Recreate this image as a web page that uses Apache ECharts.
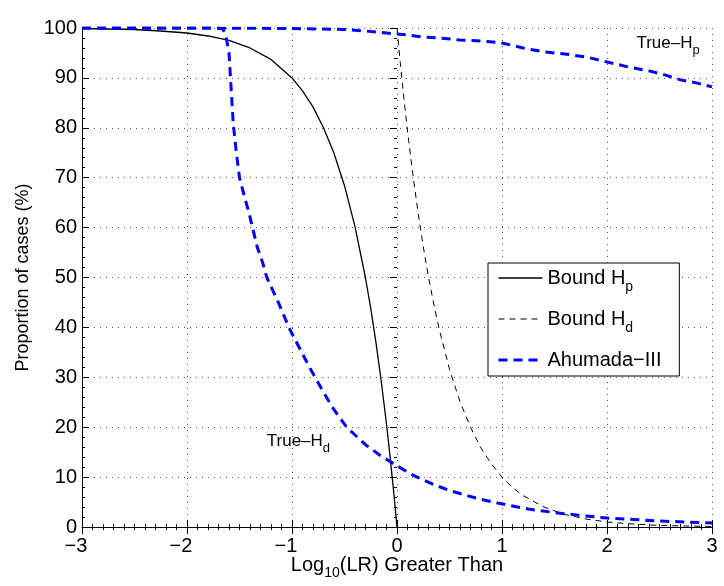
<!DOCTYPE html>
<html><head><meta charset="utf-8">
<script src="https://cdn.jsdelivr.net/npm/echarts@6/dist/echarts.min.js"></script>
<style>html,body{margin:0;padding:0;background:#fff}#c{width:724px;height:586px}</style>
</head><body><div id="c"></div>
<script>
// ---- data ----
const xTickValues = [-3, -2, -1, 0, 1, 2, 3];
const yTickValues = [0, 10, 20, 30, 40, 50, 60, 70, 80, 90, 100];

const boundHpX = [-3, -2.75, -2.5, -2.25, -2, -1.8, -1.6, -1.4, -1.2, -1.0, -0.9, -0.8, -0.7, -0.6, -0.5, -0.4, -0.3, -0.25, -0.2, -0.15, -0.1, -0.07, -0.04, -0.02, 0];
const boundHpY = [99.9, 99.8, 99.7, 99.4, 99.0, 98.4, 97.5, 96.0, 93.7, 90.0, 87.4, 84.2, 80.0, 74.9, 68.4, 60.2, 49.9, 43.8, 36.9, 29.2, 20.6, 14.9, 8.8, 4.5, 0];

const boundHdX = [0, 0.01, 0.03, 0.05, 0.075, 0.1, 0.15, 0.2, 0.25, 0.3, 0.35, 0.4, 0.5, 0.6, 0.7, 0.8, 0.9, 1.0, 1.1, 1.2, 1.4, 1.6, 1.8, 2.0, 2.25, 2.5, 2.75, 3];
const boundHdY = [100, 97.7, 93.3, 89.1, 84.1, 79.4, 70.8, 63.1, 56.2, 50.1, 44.7, 39.8, 31.6, 25.1, 20.0, 15.8, 12.6, 10.0, 7.9, 6.3, 4.0, 2.5, 1.6, 1.0, 0.6, 0.3, 0.2, 0.1];

const ahumadaHdX = [-3, -2, -1.7, -1.66, -1.63, -1.60, -1.58, -1.56, -1.53, -1.50, -1.45, -1.41, -1.37, -1.33, -1.28, -1.24, -1.13, -1.03, -0.92, -0.82, -0.70, -0.6, -0.48, -0.3, -0.15, -0.04, 0.1, 0.19, 0.35, 0.5, 0.75, 0.96, 1.25, 1.5, 1.75, 2.0, 2.25, 2.5, 2.75, 3];
const ahumadaHdY = [100, 100, 100, 99.8, 98.5, 95, 88, 81, 75, 70, 66, 63, 59.5, 56, 53, 50, 45, 40, 35.5, 31.5, 27, 23.5, 20, 16.5, 14.2, 12.8, 11, 10, 8.5, 7.3, 5.8, 4.8, 3.6, 2.9, 2.3, 1.8, 1.5, 1.2, 1.0, 0.8];

const ahumadaHpX = [-3, -2, -1, -0.5, -0.3, -0.1, 0.1, 0.25, 0.4, 0.6, 0.8, 1.0, 1.2, 1.4, 1.6, 1.8, 2.0, 2.2, 2.4, 2.55, 2.7, 2.85, 3];
const ahumadaHpY = [100, 100, 99.9, 99.7, 99.4, 99.0, 98.6, 98.2, 98.0, 97.6, 97.4, 97.0, 96.0, 95.2, 94.8, 94.2, 93.2, 92.2, 91.4, 90.6, 89.6, 89.0, 88.2];

const seriesNames = ['Bound Hp', 'Bound Hd', 'Ahumada-III'];
const annotations = [
  { text: 'True–H', sub: 'p', x: 2.28, y: 96.9 },
  { text: 'True–H', sub: 'd', x: -1.24, y: 17.1 }
];

// ---- chart ----
const FONT = '"Liberation Sans", Arial, Helvetica, sans-serif';
const pairs = (xs, ys) => xs.map((x, i) => [x, ys[i]]);

const chart = echarts.init(document.getElementById('c'), null, { renderer: 'canvas' });

const tickStyle = { color: '#000', width: 1 };
const gridLine = { show: true, lineStyle: { color: '#555', type: [1, 5], width: 1 } };
const hiddenSymbol = { opacity: 0, color: 'rgba(0,0,0,0)', borderWidth: 0 };

const option = {
  animation: false,
  backgroundColor: '#fff',
  textStyle: { fontFamily: FONT },
  grid: { left: 82, right: 12, top: 28, bottom: 59, containLabel: false, outerBoundsMode: 'none' },
  xAxis: [{
    type: 'value', min: xTickValues[0], max: xTickValues[xTickValues.length - 1], interval: 1, position: 'bottom',
    name: 'Log{s|10}(LR) Greater Than', nameLocation: 'middle', nameGap: 25, nameMoveOverlap: false,
    nameTextStyle: { fontFamily: FONT, fontSize: 20, color: '#000', lineHeight: 20, padding: [3, 0, 0, 0],
      rich: { s: { fontFamily: FONT, fontSize: 14, lineHeight: 20, padding: [8, 0, -8, 0], color: '#000' } } },
    axisLine: { show: true, onZero: false, lineStyle: tickStyle },
    axisTick: { show: true, inside: true, length: 7, lineStyle: tickStyle },
    minorTick: { show: true, splitNumber: 10, length: 3, lineStyle: tickStyle },
    axisLabel: { margin: 9, fontSize: 20, color: '#000', fontFamily: FONT,
      formatter: v => v < 0 ? '−' + Math.abs(v) + '{p| }' : String(v),
      rich: { p: { width: 12, fontSize: 20 } } },
    splitLine: gridLine
  }, {
    type: 'value', min: -3, max: 3, interval: 1, position: 'top',
    axisLine: { show: false },
    axisTick: { show: true, inside: true, length: 7, lineStyle: tickStyle },
    minorTick: { show: true, splitNumber: 10, length: 3, lineStyle: tickStyle },
    axisLabel: { show: false }, splitLine: { show: false }
  }],
  yAxis: [{
    type: 'value', min: yTickValues[0], max: yTickValues[yTickValues.length - 1], interval: 10, position: 'left',
    name: 'Proportion of cases (%)', nameLocation: 'middle', nameGap: 50, nameMoveOverlap: false,
    nameTextStyle: { fontFamily: FONT, fontSize: 18, color: '#000' },
    axisLine: { show: true, onZero: false, lineStyle: tickStyle },
    axisTick: { show: true, inside: true, length: 7, lineStyle: tickStyle },
    minorTick: { show: true, splitNumber: 5, length: 3, lineStyle: tickStyle },
    axisLabel: { margin: 5, fontSize: 20, color: '#000', fontFamily: FONT },
    splitLine: gridLine
  }, {
    type: 'value', min: 0, max: 100, interval: 10, position: 'right',
    axisLine: { show: false },
    axisTick: { show: true, inside: true, length: 7, lineStyle: tickStyle },
    minorTick: { show: true, splitNumber: 5, length: 3, lineStyle: tickStyle },
    axisLabel: { show: false }, splitLine: { show: false }
  }],
  legend: {
    orient: 'vertical', left: 488, top: 263, padding: [5, 14, 0, 9], itemGap: 15,
    itemWidth: 44, itemHeight: 14, selectedMode: false,
    borderColor: '#000', borderWidth: 1, borderRadius: 0, backgroundColor: '#fff',
    textStyle: { fontFamily: FONT, fontSize: 20, color: '#000', lineHeight: 20,
      rich: { s: { fontFamily: FONT, fontSize: 14, lineHeight: 20, padding: [9, 0, -9, 0], color: '#000' } } },
    formatter: n => n === 'Bound Hp' ? 'Bound H{s|p}' : n === 'Bound Hd' ? 'Bound H{s|d}' : 'Ahumada−III{s| }',
    data: [
      { name: seriesNames[0], itemStyle: hiddenSymbol, lineStyle: { width: 1.3 } },
      { name: seriesNames[1], itemStyle: hiddenSymbol, lineStyle: { width: 1 } },
      { name: seriesNames[2], itemStyle: hiddenSymbol, lineStyle: { width: 3 } }
    ]
  },
  series: [
    { name: seriesNames[0], type: 'line', data: pairs(boundHpX, boundHpY), symbol: 'none', showSymbol: false,
      lineStyle: { color: '#000', width: 1.3 }, itemStyle: { color: '#000' }, z: 2 },
    { name: seriesNames[1], type: 'line', data: pairs(boundHdX, boundHdY), symbol: 'none', showSymbol: false,
      lineStyle: { color: '#000', width: 1, type: [6, 5] }, itemStyle: { color: '#000' }, z: 2 },
    { name: seriesNames[2], type: 'line', data: pairs(ahumadaHdX, ahumadaHdY), symbol: 'none', showSymbol: false,
      lineStyle: { color: '#0000ff', width: 3, type: [9, 6] }, itemStyle: { color: '#0000ff' }, z: 3 },
    { name: seriesNames[2], type: 'line', data: pairs(ahumadaHpX, ahumadaHpY), symbol: 'none', showSymbol: false,
      lineStyle: { color: '#0000ff', width: 3, type: [9, 6] }, itemStyle: { color: '#0000ff' }, z: 3 }
  ]
};
chart.setOption(option);

const graphics = annotations.map(a => {
  const p = chart.convertToPixel({ xAxisIndex: 0, yAxisIndex: 0 }, [a.x, a.y]);
  return {
    type: 'text', x: p[0], y: p[1], z: 10,
    style: {
      text: a.text + '{s|' + a.sub + '}', fill: '#000',
      fontFamily: FONT, fontSize: 17, lineHeight: 17,
      align: 'left', verticalAlign: 'middle',
      rich: { s: { fontFamily: FONT, fontSize: 13, lineHeight: 17, padding: [7, 0, -7, 0], fill: '#000' } }
    }
  };
});
chart.setOption({ graphic: graphics });
</script>
</body></html>
